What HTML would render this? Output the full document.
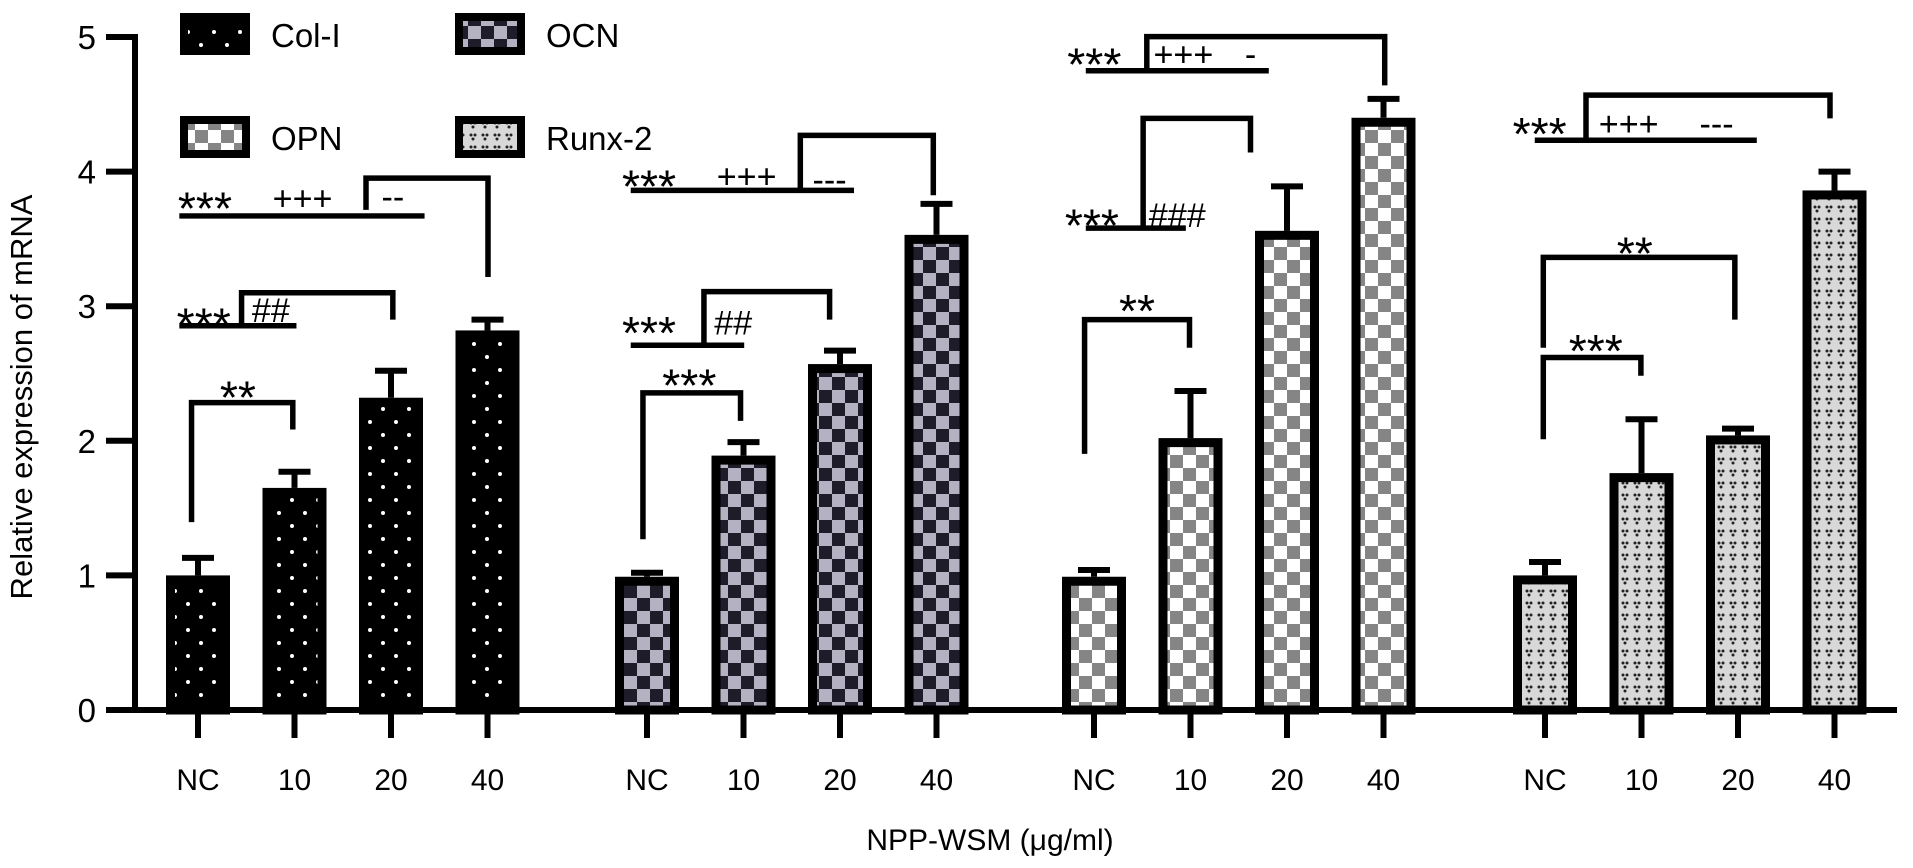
<!DOCTYPE html>
<html><head><meta charset="utf-8"><style>
html,body{margin:0;padding:0;background:#fff;}
svg{display:block;font-family:"Liberation Sans",Arial,sans-serif;}
</style></head><body>
<svg id="chart" width="1913" height="868" viewBox="0 0 1913 868">
<defs>
<pattern id="pColI" patternUnits="userSpaceOnUse" width="26" height="26">
<rect width="26" height="26" fill="#000"/><circle cx="6" cy="6" r="2" fill="#fff"/><circle cx="19" cy="19" r="2" fill="#fff"/>
</pattern>
<pattern id="pOCN" patternUnits="userSpaceOnUse" width="26" height="26">
<rect width="26" height="26" fill="#1e1c28"/><rect width="13" height="13" fill="#b4b2c2"/><rect x="13" y="13" width="13" height="13" fill="#b4b2c2"/>
</pattern>
<pattern id="pOPN" patternUnits="userSpaceOnUse" width="26" height="26">
<rect width="26" height="26" fill="#fff"/><rect x="13" width="13" height="13" fill="#858585"/><rect y="13" width="13" height="13" fill="#858585"/>
</pattern>
<pattern id="pRunx" patternUnits="userSpaceOnUse" width="12" height="12">
<rect width="12" height="12" fill="#d8d8d8"/><circle cx="3" cy="3" r="1.5" fill="#222"/><circle cx="7" cy="3" r="1.5" fill="#222"/><circle cx="5" cy="7" r="1.5" fill="#222"/>
</pattern>
</defs>
<g id="axes"></g>
<g id="bars"></g>
<g id="annot" transform="scale(1.22)" fill="none" stroke="#000" stroke-width="4.5"></g>
<g id="legend"></g>
</svg>
<script>
const groups = ["Col-I","OCN","OPN","Runx-2"];
const categories = ["NC","10","20","40"];
const colIValues = [1.00,1.65,2.32,2.82];
const colIErrors = [0.13,0.12,0.20,0.08];
const ocnValues = [0.99,1.89,2.57,3.53];
const ocnErrors = [0.03,0.10,0.10,0.23];
const opnValues = [0.99,2.02,3.56,4.40];
const opnErrors = [0.05,0.35,0.33,0.14];
const runxValues = [1.00,1.76,2.04,3.86];
const runxErrors = [0.10,0.40,0.05,0.14];
const yTicks = [0,1,2,3,4,5];

const NS="http://www.w3.org/2000/svg";
const Y0=710, PERUNIT=134.6;
function yScale(v){return Y0-v*PERUNIT;}
const groupStart=[198,647,1094,1545], STEP=96.5, BW=64;
function xScale(g,i){return groupStart[g]+i*STEP;}
function mk(tag,attrs,parent){const e=document.createElementNS(NS,tag);for(const k in attrs)e.setAttribute(k,attrs[k]);parent.appendChild(e);return e;}

const axes=document.getElementById('axes');
let e;
e=mk('line',{x1:135,y1:yScale(5)-3,x2:135,y2:Y0+3,stroke:'#000','stroke-width':6},axes);


e=mk('line',{x1:106,y1:Y0,x2:1897,y2:Y0,stroke:'#000','stroke-width':6},axes);


yTicks.forEach(t=>{
  const y=yScale(t);
  e=mk('line',{x1:106,y1:y,x2:135,y2:y,stroke:'#000','stroke-width':6},axes);
  
  
  e=mk('text',{x:96,y:y+12,'text-anchor':'end','font-size':33},axes);
  e.textContent=t;
  
  
});
e=mk('text',{x:0,y:0,'text-anchor':'middle','font-size':31,transform:'translate(32,397) rotate(-90)'},axes);
e.textContent='Relative expression of mRNA';


e=mk('text',{x:990,y:850,'text-anchor':'middle','font-size':30},axes);
e.textContent='NPP-WSM (\u03bcg/ml)';



const series=[[colIValues,colIErrors,'pColI'],[ocnValues,ocnErrors,'pOCN'],[opnValues,opnErrors,'pOPN'],[runxValues,runxErrors,'pRunx']];
const bars=document.getElementById('bars');
series.forEach((s,g)=>{
  categories.forEach((c,i)=>{
    const cx=xScale(g,i), v=s[0][i], er=s[1][i];
    const top=yScale(v), et=yScale(v+er);
    e=mk('line',{x1:cx,y1:top,x2:cx,y2:et,stroke:'#000','stroke-width':6},bars);
    
    
    e=mk('line',{x1:cx-16,y1:et,x2:cx+16,y2:et,stroke:'#000','stroke-width':6},bars);
    
    
    e=mk('rect',{x:cx-BW/2+4.5,y:top+4.5,width:BW-9,height:Math.max(0,Y0-top-4.5),fill:'url(#'+s[2]+')',stroke:'#000','stroke-width':9},bars);
    
    
    e=mk('line',{x1:cx,y1:Y0,x2:cx,y2:738,stroke:'#000','stroke-width':6},bars);
    
    
    e=mk('text',{x:cx,y:790,'text-anchor':'middle','font-size':30},bars);
    e.textContent=c;
    
    
  });
});

const annPaths=["M157,428V330H240V352","M147,267H243","M198,267V240H322V262","M147,177H348","M300,172V146H400V227",
"M527,442V322H607V345","M517,283H610","M577,283V239H680V262","M517,156H700","M656,156V111H765V160",
"M889,372V262H975V285","M890,187H972","M937,187V97H1025V125","M890,58H1040","M940,58V30H1135V70",
"M1265,360V293H1345V308","M1265,285V211H1422V262","M1258,115H1440","M1300,115V78H1500V97"];
const annTexts=[["**",195,318],["***",167,258],["##",222,255],["***",168,163],["+++",248,163],["--",322,162],
["***",565,308],["***",532,265],["##",601,265],["***",532,145],["+++",612,145],["---",680,148],
["**",932,247],["***",895,177],["###",965,177],["***",897,45],["+++",970,45],["-",1025,45],
["***",1308,280],["**",1340,200],["***",1262,102],["+++",1335,102],["---",1407,102]];
const annot=document.getElementById('annot');
annPaths.forEach(d=>{
  e=mk('path',{d:d,'stroke-linecap':'butt'},annot);
  
  
});
annTexts.forEach(t=>{
  const star=t[0][0]==='*';
  const fs=star?38:28, off=star?21:9;
  e=mk('text',{x:t[1],y:t[2]+off,'text-anchor':'middle','font-size':fs,fill:'#000',stroke:'none'},annot);
  e.textContent=t[0];
  
  
});

const legend=document.getElementById('legend');
const legPos=[[180,13],[455,13],[180,116],[455,116]];
const legPat=['pColI','pOCN','pOPN','pRunx'];
groups.forEach((gname,i)=>{
  const [lx,ly]=legPos[i];
  e=mk('rect',{x:lx+4,y:ly+4,width:62,height:34,fill:'url(#'+legPat[i]+')',stroke:'#000','stroke-width':8},legend);
  
  
  e=mk('text',{x:lx+91,y:ly+34,'font-size':33},legend);
  e.textContent=gname;
  
  
});
</script>
</body></html>
